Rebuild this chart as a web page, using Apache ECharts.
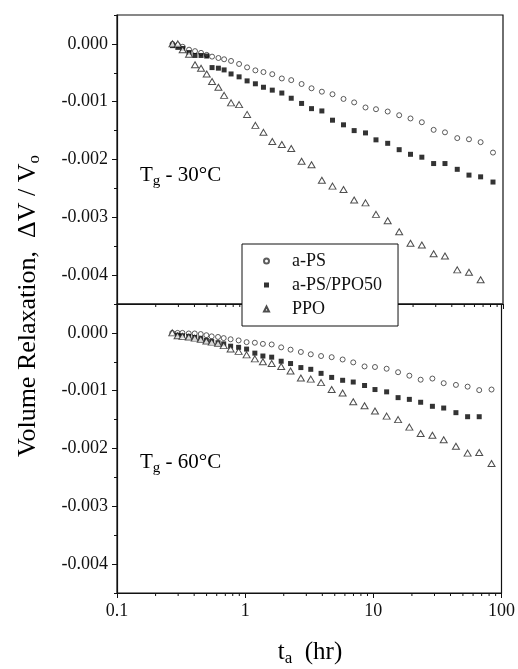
<!DOCTYPE html>
<html>
<head>
<meta charset="utf-8">
<script src="https://cdn.jsdelivr.net/npm/echarts@6/dist/echarts.min.js"></script>
<style>
html,body{margin:0;padding:0;background:#fff;}
#chart{width:518px;height:669px;}
</style>
</head>
<body>
<div id="chart"></div>
<script>
// ---- data ----
// aging times, hr
const T = [0.27, 0.297, 0.324, 0.363, 0.404, 0.45, 0.498, 0.548, 0.614, 0.68, 0.77, 0.889,
  1.026, 1.19, 1.375, 1.61, 1.91, 2.26, 2.72, 3.25, 3.91, 4.73, 5.76, 6.97, 8.54,
  10.3, 12.7, 15.6, 19.1, 23.4, 28.9, 35.4, 44.1, 54.4, 67.0, 83.6];

// Tg - 30 C panel
const TOP_APS = [0, -0.00002, -0.00005, -0.0001, -0.000125, -0.000155, -0.00019, -0.00022, -0.000244, -0.000266, -0.000295, -0.000347,
  -0.000406, -0.000458, -0.000487, -0.000524, -0.000598, -0.000627, -0.000694, -0.000768, -0.000827, -0.000871, -0.000952, -0.001012, -0.0011,
  -0.00113, -0.00117, -0.001234, -0.00129, -0.001355, -0.001487, -0.00153, -0.00163, -0.00165, -0.0017, -0.00188];
const TOP_BLEND = [-0.00003, -0.00006, -0.00008, -0.00015, -0.0002, -0.0002, -0.00021, -0.00041, -0.00042, -0.00045, -0.00052, -0.00057,
  -0.00064, -0.00069, -0.00075, -0.0008, -0.00085, -0.00094, -0.00103, -0.00112, -0.00116, -0.00132, -0.0014, -0.0015, -0.00154,
  -0.00166, -0.00172, -0.00183, -0.00191, -0.00196, -0.00207, -0.00207, -0.00217, -0.00227, -0.0023, -0.00239];
const TOP_PPO = [0, 0, -0.0001, -0.00018, -0.00036, -0.00042, -0.00052, -0.00065, -0.00075, -0.00089, -0.00102, -0.00105,
  -0.00122, -0.00141, -0.00153, -0.00169, -0.00174, -0.00181, -0.00203, -0.00209, -0.00236, -0.00246, -0.00252, -0.0027, -0.00275,
  -0.00295, -0.00306, -0.00325, -0.00345, -0.00348, -0.00363, -0.00367, -0.00391, -0.00395, -0.00408, null];

// Tg - 60 C panel
const BOT_APS = [0, 0, 0, -0.00001, -0.00001, -0.00002, -0.00004, -0.00006, -0.00007, -0.00009, -0.00011, -0.00013,
  -0.00016, -0.00017, -0.00019, -0.0002, -0.00025, -0.00029, -0.00033, -0.00037, -0.0004, -0.00042, -0.00046, -0.00051, -0.00058,
  -0.00059, -0.00062, -0.00068, -0.00074, -0.00081, -0.00079, -0.00087, -0.0009, -0.00093, -0.00099, -0.00098];
const BOT_BLEND = [null, -0.00004, -0.00005, -0.00006, -0.00008, -0.0001, -0.00013, -0.00015, -0.00017, -0.00019, -0.00023, -0.00025,
  -0.00028, -0.00035, -0.0004, -0.00042, -0.00049, -0.00053, -0.0006, -0.00063, -0.0007, -0.00077, -0.00082, -0.00085, -0.00091,
  -0.00098, -0.00102, -0.00112, -0.00115, -0.0012, -0.00127, -0.0013, -0.00138, -0.00145, -0.00145, null];
const BOT_PPO = [0, -0.00005, -0.00006, -0.00007, -0.00009, -0.00011, -0.00014, -0.00016, -0.00018, -0.00022, -0.00028, -0.00032,
  -0.00038, -0.00045, -0.0005, -0.00053, -0.00058, -0.00066, -0.00078, -0.0008, -0.00086, -0.00098, -0.00104, -0.00119, -0.00126,
  -0.00135, -0.00144, -0.0015, -0.00163, -0.00174, -0.00177, -0.00185, -0.00196, -0.00208, -0.00207, -0.00226];

// axis ticks
const Y_MIN = -0.0045, Y_MAX = 0.0005;
const Y_LABELS = [0, -0.001, -0.002, -0.003, -0.004];
const Y_MINOR = [0.0005, -0.0005, -0.0015, -0.0025, -0.0035, -0.0045];
const X_MINOR = [0.2,0.3,0.4,0.5,0.6,0.7,0.8,0.9, 2,3,4,5,6,7,8,9, 20,30,40,50,60,70,80,90];
const NAMES = ['a-PS', 'a-PS/PPO50', 'PPO'];

// ---- chart ----
const FONT = "'Liberation Serif','Times New Roman',serif";
const INK = '#111';
const chart = echarts.init(document.getElementById('chart'), null, {renderer: 'canvas'});

function pts(vals) {
  const out = [];
  T.forEach((t, i) => { if (vals[i] !== null && vals[i] !== undefined) out.push([t, vals[i]]); });
  return out;
}

function xAxis(g, labels) {
  return {
    type: 'log', logBase: 10, min: 0.1, max: 100, gridIndex: g,
    axisLine: {show: true, onZero: false, lineStyle: {color: INK, width: 1.2}},
    axisTick: {show: true, inside: false, length: 5, lineStyle: {color: INK, width: 1}},
    minorTick: {show: false},
    splitLine: {show: false},
    axisLabel: {show: labels, fontFamily: FONT, fontSize: 18, color: INK, margin: 9}
  };
}
function yMajor(g) {
  return {
    type: 'value', min: Y_MIN, max: Y_MAX, gridIndex: g, position: 'left',
    axisLine: {show: true, onZero: false, lineStyle: {color: INK, width: 1.2}},
    axisTick: {show: true, inside: false, length: 5, customValues: Y_LABELS, lineStyle: {color: INK, width: 1}},
    splitLine: {show: false},
    axisLabel: {show: true, customValues: Y_LABELS, fontFamily: FONT, fontSize: 18, color: INK, margin: 9,
      formatter: v => (Math.abs(v) < 1e-9 ? 0 : v).toFixed(3)}
  };
}
function yMinor(g) {
  return {
    type: 'value', min: Y_MIN, max: Y_MAX, gridIndex: g, position: 'left',
    axisLine: {show: false},
    axisTick: {show: true, inside: false, length: 3, customValues: Y_MINOR, lineStyle: {color: INK, width: 1}},
    splitLine: {show: false},
    axisLabel: {show: false}
  };
}
function minorXTicks(g, yAxisIndex) {
  return {
    type: 'custom', xAxisIndex: g, yAxisIndex: yAxisIndex, silent: true, clip: false,
    data: X_MINOR.map(v => [v, Y_MIN]),
    renderItem: (params, api) => {
      const p = api.coord([api.value(0), api.value(1)]);
      return {type: 'line', shape: {x1: p[0], y1: p[1], x2: p[0], y2: p[1] + 3},
        style: {stroke: INK, lineWidth: 1}};
    }
  };
}
const circleStyle = {color: '#fff', borderColor: '#333', borderWidth: 1};
const squareStyle = {color: '#000'};
const triStyle = {color: '#fff', borderColor: '#222', borderWidth: 1};

function scatter(name, g, yIdx, vals) {
  const base = {name: name, type: 'scatter', xAxisIndex: g, yAxisIndex: yIdx, data: pts(vals), silent: true, z: 3};
  if (name === NAMES[0]) return Object.assign(base, {symbol: 'circle', symbolSize: 5, itemStyle: circleStyle});
  if (name === NAMES[1]) return Object.assign(base, {symbol: 'rect', symbolSize: 5, itemStyle: squareStyle});
  return Object.assign(base, {symbol: 'triangle', symbolSize: [7, 6], itemStyle: triStyle});
}

const subRich = (n, s, pad) => ({
  n: {fontFamily: FONT, fontSize: n, lineHeight: n + 1, color: INK, verticalAlign: 'top'},
  s: {fontFamily: FONT, fontSize: s, lineHeight: s + 1, color: INK, verticalAlign: 'top', padding: [pad, 0, 0, 0]}
});

chart.setOption({
  animation: false,
  backgroundColor: '#fff',
  grid: [
    {left: 117, top: 15, width: 386, height: 289, show: true, borderColor: INK, borderWidth: 1.2, backgroundColor: 'transparent'},
    {left: 117, top: 304, width: 386, height: 289, show: true, borderColor: INK, borderWidth: 1.2, backgroundColor: 'transparent'}
  ],
  xAxis: [xAxis(0, false), xAxis(1, true)],
  yAxis: [yMajor(0), yMinor(0), yMajor(1), yMinor(1)],
  legend: {
    data: NAMES, orient: 'vertical', left: 242, top: 244,
    padding: [8, 16, 8, 21], itemGap: 6, itemWidth: 5, itemHeight: 5,
    backgroundColor: '#fff', borderColor: INK, borderWidth: 1, selectedMode: false,
    formatter: name => '{t|' + name + '}',
    textStyle: {fontFamily: FONT, fontSize: 18, lineHeight: 18, color: INK,
      rich: {t: {fontFamily: FONT, fontSize: 18, lineHeight: 18, color: INK, padding: [0, 0, 0, 18]}}}
  },
  series: [
    scatter(NAMES[0], 0, 0, TOP_APS),
    scatter(NAMES[1], 0, 0, TOP_BLEND),
    scatter(NAMES[2], 0, 0, TOP_PPO),
    scatter(NAMES[0], 1, 2, BOT_APS),
    scatter(NAMES[1], 1, 2, BOT_BLEND),
    scatter(NAMES[2], 1, 2, BOT_PPO),
    minorXTicks(0, 0),
    minorXTicks(1, 2)
  ],
  graphic: [
    {type: 'text', x: 140, y: 176, silent: true,
      style: {text: '{n|T}{s|g}{n| - 30°C}', rich: subRich(21, 15, 9), textAlign: 'left', textVerticalAlign: 'middle'}},
    {type: 'text', x: 140, y: 463, silent: true,
      style: {text: '{n|T}{s|g}{n| - 60°C}', rich: subRich(21, 15, 9), textAlign: 'left', textVerticalAlign: 'middle'}},
    {type: 'text', x: 29, y: 306, rotation: Math.PI / 2, silent: true,
      style: {text: '{n|Volume Relaxation,  ΔV / V}{s|o}', rich: subRich(26, 17, 11), textAlign: 'center', textVerticalAlign: 'middle'}},
    {type: 'text', x: 310, y: 653, silent: true,
      style: {text: '{n|t}{s|a}{n|  (hr)}', rich: subRich(25, 17, 10), textAlign: 'center', textVerticalAlign: 'middle'}}
  ]
});
</script>
</body>
</html>
